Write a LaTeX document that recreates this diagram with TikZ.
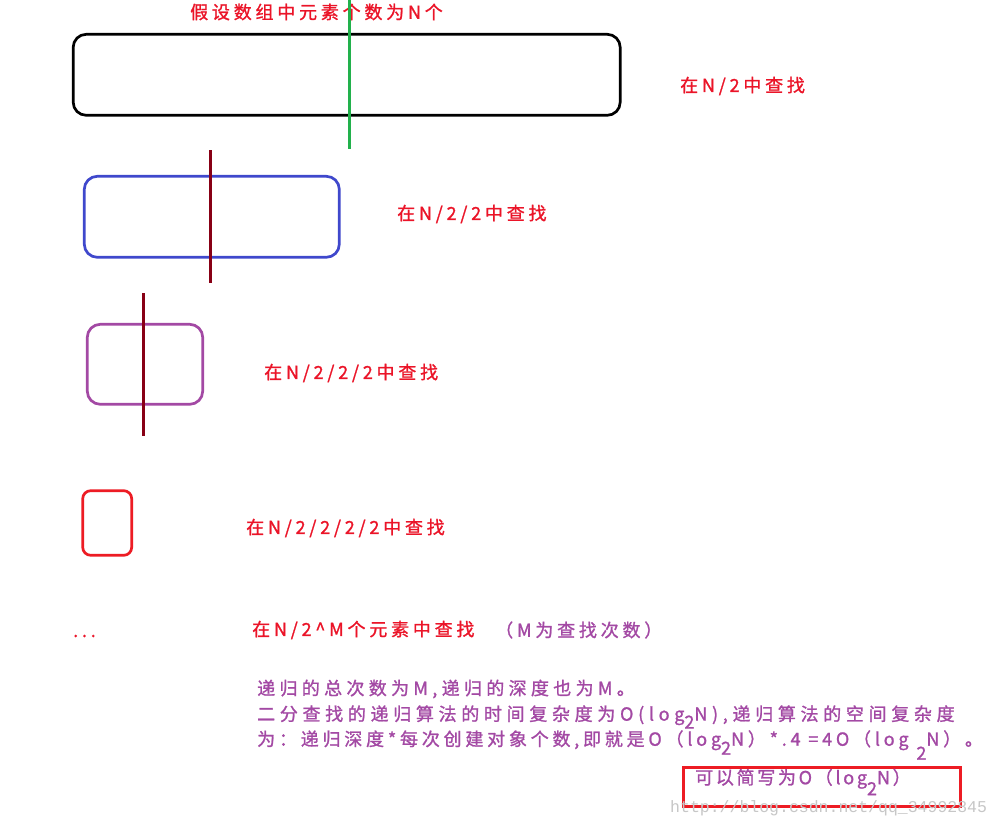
\documentclass[tikz,border=0pt]{standalone}
\usepackage{fontspec}
\newfontfamily\cjk[LetterSpace=21,FakeBold=1.2]{Noto Sans CJK SC}
\newfontfamily\wmfont{Liberation Mono}
\definecolor{pred}{RGB}{237,28,36}
\definecolor{tred}{RGB}{235,20,40}
\definecolor{ppurple}{RGB}{163,73,164}
\definecolor{pindigo}{RGB}{63,72,204}
\definecolor{pgreen}{RGB}{34,177,76}
\definecolor{pdark}{RGB}{136,0,21}
\newcommand{\lowsub}[2]{\raisebox{-#1pt}{#2}}
\begin{document}
\begin{tikzpicture}[x=1pt,y=-1pt,
  box/.style={rounded corners=13pt, line width=2.7pt, inner sep=0pt},
  cut/.style={line width=3pt},
  rt/.style={anchor=west, inner sep=0pt, text=tred, font=\cjk\fontsize{18}{20}\selectfont},
  pt/.style={rt, text=ppurple}]
\useasboundingbox (0,0) rectangle (1002,828);
\fill[white] (0,0) rectangle (1002,828);

% boxes
\node[box, draw=black, minimum width=547pt, minimum height=81pt] (b1) at (346.7,74.8) {};
\node[box, draw=pindigo, minimum width=255pt, minimum height=81pt] (b2) at (211.8,216.8) {};
\node[box, draw=ppurple, minimum width=115.4pt, minimum height=80pt] (b3) at (145,364.3) {};
\node[box, draw=pred, rounded corners=8pt, minimum width=49pt, minimum height=64.6pt] (b4) at (107.2,523) {};

% title (under green line)
\node[rt] (t0) at (190,12) {假设数组中元素个数为N个};

% cut lines
\coordinate (g1) at (349.3,0);
\coordinate (g2) at (349.3,149);
\draw[cut, draw=pgreen] (g1) -- (g2);
\coordinate (c1) at (210.3,150);
\coordinate (c2) at (210.3,282.7);
\draw[cut, draw=pdark] (c1) -- (c2);
\coordinate (d1) at (143.3,293);
\coordinate (d2) at (143.3,435.7);
\draw[cut, draw=pdark] (d1) -- (d2);

% labels
\node[rt] (t1) at (680,86) {在N/2中查找};
\node[rt] (t2) at (397,214) {在N/2/2中查找};
\node[rt] (t3) at (264,373) {在N/2/2/2中查找};
\node[rt] (t4) at (246,528) {在N/2/2/2/2中查找};
\node[rt] (dots) at (73,636) {...};
\node[rt] (t5) at (252,630) {在N/2\^{}M个元素中查找};
\node[pt] (t6) at (495,630) {（M为查找次数）};

\node[pt] (l1) at (257,689) {\addfontfeature{LetterSpace=24}递归的总次数为M,递归的深度也为M。};
\node[pt] (l2) at (257,717) {\addfontfeature{LetterSpace=26}二分查找的递归算法的时间复杂度为O(log\lowsub{8}{2}N),递归算法的空间复杂度};
\node[pt] (l3) at (257,745) {为：递归深度*每次创建对象个数,即就是O（log\lowsub{9}{2}N）*.4 =4O（log \lowsub{14}{2}N）。};

% boxed note
\node[draw=pred, line width=3pt, inner sep=0pt, minimum width=277pt, minimum height=39pt] (nb) at (821.5,786.5) {};
\node[pt] (nt) at (695,782) {\addfontfeature{LetterSpace=15}可以简写为O（log\lowsub{11}{2}N）};

% watermark
\node[anchor=west, inner sep=0pt, text=black!22, font=\wmfont\fontsize{16.5}{18}\selectfont] (wm) at (670,808) {http://blog.csdn.net/qq\_34992845};
\end{tikzpicture}
\end{document}
